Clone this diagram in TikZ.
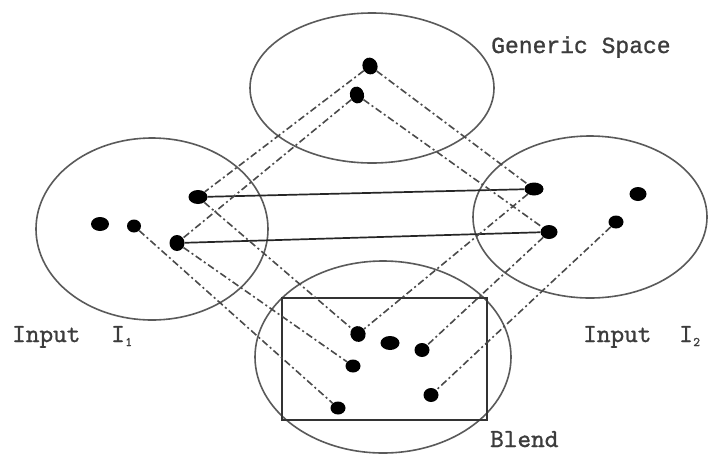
\documentclass[tikz,border=0pt]{standalone}
\usepackage{fontspec}
\usetikzlibrary{shapes.geometric}
\newfontfamily\gsfont[FakeBold=1]{Liberation Mono}
\newfontfamily\lblfont[FakeBold=1]{lmmono10-regular.otf}
\definecolor{circgray}{HTML}{5A5A5A}
\definecolor{txtgray}{HTML}{3C3C3C}
\definecolor{linkgray}{HTML}{4A4A4A}
\tikzset{
  space/.style={draw=circgray, line width=1.6pt},
  dotnode/.style={ellipse, fill=black, draw=none, inner sep=0pt},
  link/.style={draw=linkgray, line width=1.6pt, dash pattern=on 7pt off 3pt on 2pt off 3pt},
  mapline/.style={draw=black!85, line width=1.7pt},
  frame/.style={draw=black!80, line width=1.5pt},
  lbl/.style={text=txtgray, inner sep=0pt, anchor=base west, font=\lblfont\fontsize{26}{26}\selectfont},
  gslbl/.style={text=txtgray, inner sep=0pt, anchor=base west, font=\gsfont\fontsize{23}{23}\selectfont},
  sub/.style={text=txtgray, inner sep=0pt, anchor=base west, font=\lblfont\fontsize{13}{13}\selectfont}
}
\begin{document}
\begin{tikzpicture}[x=1pt, y=-1pt]
\useasboundingbox (0,0) rectangle (708,456);
\fill[white] (0,0) rectangle (708,456);

% spaces
\draw[space] (372,88) ellipse [x radius=122, y radius=75];
\draw[space] (152,229) ellipse [x radius=116, y radius=91];
\draw[space] (590,217) ellipse [x radius=117, y radius=81];
\draw[space] (383,357) ellipse [x radius=128, y radius=96];
\draw[frame] (282,298) rectangle (487,420);

% dots
\node[dotnode, minimum width=15pt, minimum height=17pt, rotate=20] (g1) at (370,66) {};
\node[dotnode, minimum width=14pt, minimum height=17pt, rotate=15] (g2) at (357,95) {};
\node[dotnode, minimum width=18pt, minimum height=14pt] (l1) at (100,224) {};
\node[dotnode, minimum width=14pt, minimum height=13pt] (l2) at (134,226) {};
\node[dotnode, minimum width=19pt, minimum height=14pt] (l3) at (198,197) {};
\node[dotnode, minimum width=15pt, minimum height=16pt] (l4) at (177,243) {};
\node[dotnode, minimum width=19pt, minimum height=13pt] (r1) at (534,189) {};
\node[dotnode, minimum width=17pt, minimum height=14pt] (r2) at (549,232) {};
\node[dotnode, minimum width=17pt, minimum height=14pt] (r3) at (638,194) {};
\node[dotnode, minimum width=15pt, minimum height=13pt] (r4) at (616,222) {};
\node[dotnode, minimum width=15pt, minimum height=16pt, rotate=30] (b1) at (358,334) {};
\node[dotnode, minimum width=19pt, minimum height=14pt] (b2) at (390,343) {};
\node[dotnode, minimum width=15pt, minimum height=14pt] (b3) at (422,350) {};
\node[dotnode, minimum width=15pt, minimum height=13pt] (b4) at (353,366) {};
\node[dotnode, minimum width=15pt, minimum height=14pt] (b5) at (431,395) {};
\node[dotnode, minimum width=15pt, minimum height=13pt] (b6) at (338,408) {};

% mapping lines
\draw[mapline] (l3) -- (r1);
\draw[mapline] (l4) -- (r2);

% projections
\draw[link] (g1) -- (l3);
\draw[link] (g2) -- (l4);
\draw[link] (g1) -- (r1);
\draw[link] (g2) -- (r2);
\draw[link] (l3) -- (b1);
\draw[link] (l4) -- (b4);
\draw[link] (l2) -- (b6);
\draw[link] (r1) -- (b1);
\draw[link] (r2) -- (b3);
\draw[link] (r4) -- (b5);

% labels
\node[gslbl] (gs) at (491,53) {Generic Space};
\node[lbl] (in1) at (12,342) {Input};
\node[lbl] (i1) at (111,342) {I};
\node[sub] (s1) at (i1.base east) [yshift=-4pt] {1};
\node[lbl] (in2) at (583,342) {Input};
\node[lbl] (i2) at (679,342) {I};
\node[sub] (s2) at (i2.base east) [yshift=-4pt] {2};
\node[lbl] (bl) at (490,447) {Blend};
\end{tikzpicture}
\end{document}
